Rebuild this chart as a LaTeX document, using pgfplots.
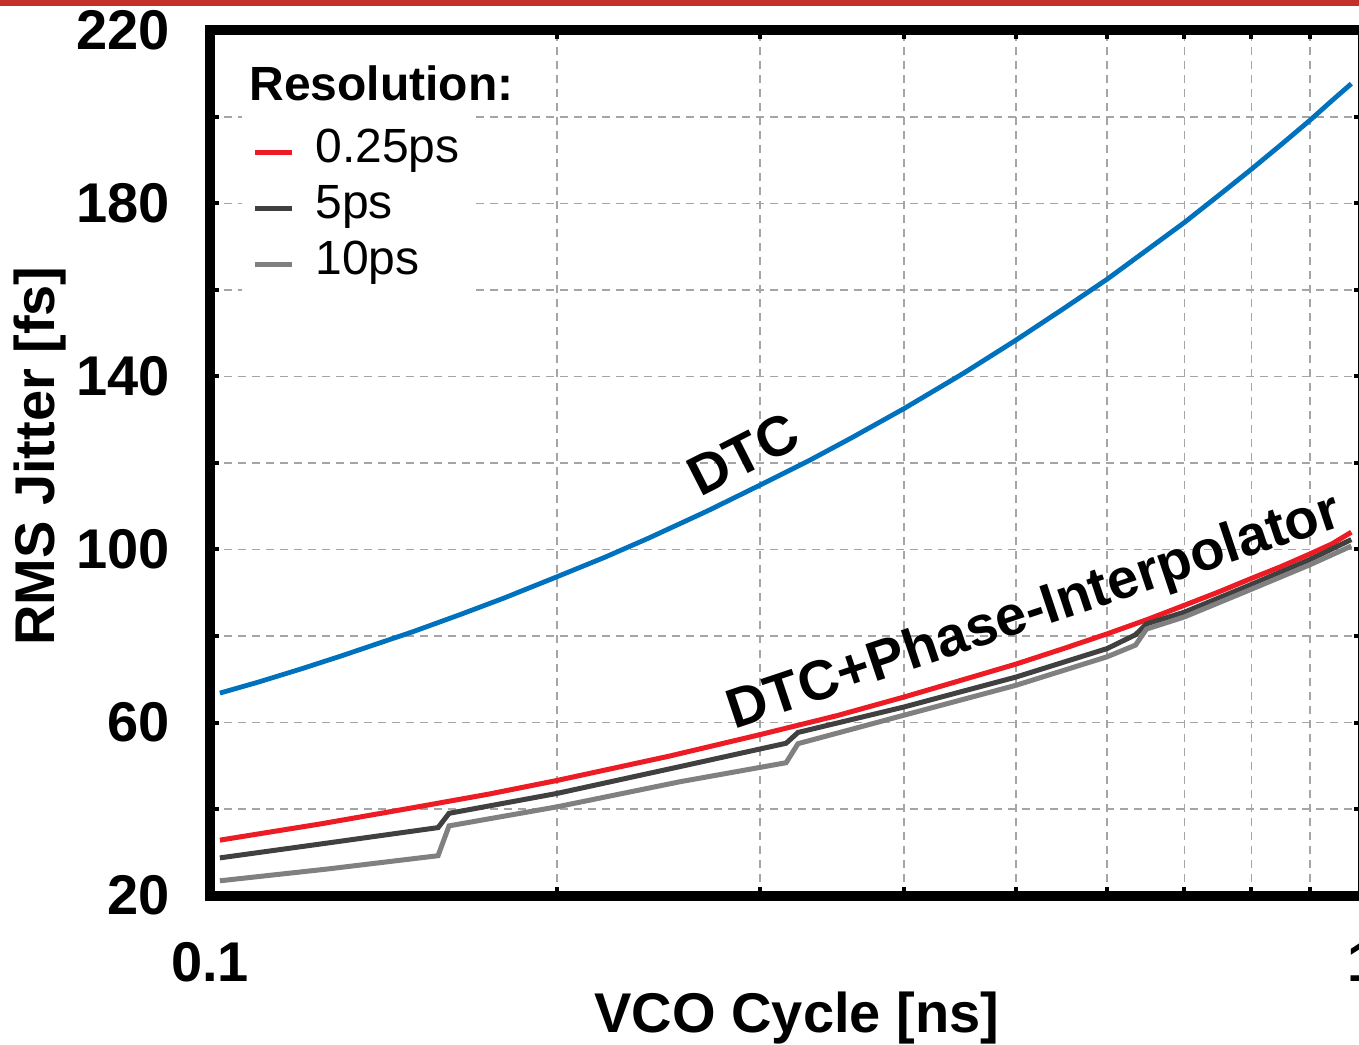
\documentclass[border=0pt]{standalone}
\usepackage{fontspec}
\setmainfont{Liberation Sans}
\usepackage{pgfplots}
\pgfplotsset{compat=1.18}
\definecolor{myblue}{RGB}{0,114,189}
\definecolor{myred}{RGB}{237,28,36}
\definecolor{dgray}{RGB}{64,64,64}
\definecolor{lgray}{RGB}{128,128,128}
\definecolor{gridgray}{RGB}{165,165,165}
\definecolor{topred}{RGB}{196,48,40}
\begin{document}
\begin{tikzpicture}
\begin{axis}[
  scale only axis, width=576.5pt, height=432.5pt,
  xmode=log, xmin=0.1, xmax=1, ymin=20, ymax=220,
  xtick={0.1,1}, xticklabels={0.1,1},
  minor xtick={0.2,0.3,0.4,0.5,0.6,0.7,0.8,0.9},
  ytick={20,60,100,140,180,220},
  minor ytick={40,80,120,160,200},
  grid=both,
  major grid style={gridgray, line width=0.75pt, dash pattern=on 4pt off 3pt},
  minor grid style={gridgray, line width=0.75pt, dash pattern=on 4pt off 3pt},
  tick align=inside,
  major tick length=4.5pt, minor tick length=4.5pt,
  tick style={black, line width=2pt},
  axis line style={line width=5pt},
  /pgf/number format/assume math mode=true,
  yticklabel style={font=\fontsize{28}{32}\selectfont\bfseries, xshift=-16.5pt},
  xticklabel style={font=\fontsize{28}{32}\selectfont\bfseries, yshift=-20pt},
  xlabel={VCO Cycle [ns]}, ylabel={RMS Jitter [fs]},
  every axis x label/.style={at={(axis description cs:0.509,-0.142)}, anchor=center, font=\fontsize{28}{32}\selectfont\bfseries},
  every axis y label/.style={at={(axis description cs:-0.147,0.508)}, rotate=90, anchor=center, font=\fontsize{28}{32}\selectfont\bfseries},
  legend style={at={(axis description cs:0.0278,0.966)}, anchor=north west,
    fill=white, draw=none, inner sep=5pt, font=\fontsize{24}{28}\selectfont,
    nodes={inner sep=0pt, text height=18pt, text depth=6pt},
    row sep=4pt, column sep=10.5pt},
  legend cell align=left,
  legend image code/.code={\draw[#1, line width=2.5pt] (0pt,-1pt) -- (18.5pt,-1pt);},
]
\addlegendimage{empty legend}
\addlegendentry{\makebox[0pt][l]{\hspace{-33.5pt}\raisebox{3pt}{\textbf{Resolution:}}}}

\addplot[myred, line width=2.5pt] coordinates {
(0.102,32.8) (0.125,36.6) (0.15,40.3) (0.175,43.5) (0.2,46.6) (0.25,52.2)
(0.3,57.2) (0.35,61.6) (0.4,65.9) (0.45,69.9) (0.5,73.5) (0.55,77.1)
(0.6,80.5) (0.65,83.8) (0.7,87.1) (0.75,90.2) (0.8,93.3) (0.85,96.1)
(0.9,99.0) (0.94,101.3) (0.977,104.0)};
\addlegendentry{0.25ps}

\addplot[dgray, line width=2.5pt] coordinates {
(0.102,28.7) (0.1262,32.1) (0.1577,35.7) (0.1612,39.0) (0.2,43.6)
(0.2556,49.8) (0.316,55.2) (0.3236,57.7) (0.4,63.6) (0.5,70.5)
(0.6,77.1) (0.635,80.3) (0.649,82.8) (0.7,85.5) (0.8,91.9)
(0.9,97.7) (0.977,102.3)};
\addlegendentry{5ps}

\addplot[lgray, line width=2.5pt] coordinates {
(0.102,23.4) (0.1262,26.1) (0.1577,29.2) (0.1612,36.1) (0.2,40.5)
(0.2556,46.3) (0.316,50.7) (0.3236,55.1) (0.4,61.7) (0.5,68.6)
(0.6,75.2) (0.635,77.9) (0.649,81.6) (0.7,84.4) (0.8,90.8)
(0.9,96.5) (0.977,100.8)};
\addlegendentry{10ps}

\addplot[myblue, line width=2.4pt, forget plot] coordinates {
(0.102,66.8) (0.11,69.3) (0.12,72.4) (0.13,75.4) (0.14,78.3) (0.15,81.0)
(0.165,85.0) (0.18,88.8) (0.2,93.7) (0.22,98.2) (0.24,102.6) (0.27,108.9)
(0.3,114.9) (0.33,120.4) (0.36,125.8) (0.4,132.6) (0.45,140.7) (0.5,148.4)
(0.55,155.7) (0.6,162.5) (0.65,169.3) (0.7,175.6) (0.75,181.9) (0.8,187.9)
(0.85,193.7) (0.9,199.3) (0.94,203.8) (0.977,207.7)};

\node[rotate=27, font=\fontsize{28}{30}\selectfont\bfseries] at (axis cs:0.29,122) {DTC};
\node[rotate=18.5, font=\fontsize{28}{30}\selectfont\bfseries] at (axis cs:0.519,85.2) {DTC+Phase-Interpolator};
\end{axis}
\fill[topred] (-105pt,444.75pt) rectangle (574.5pt,447.75pt);
\pgfresetboundingbox
\path[use as bounding box] (-105pt,-74.25pt) rectangle (574.5pt,447.75pt);
\end{tikzpicture}
\end{document}
